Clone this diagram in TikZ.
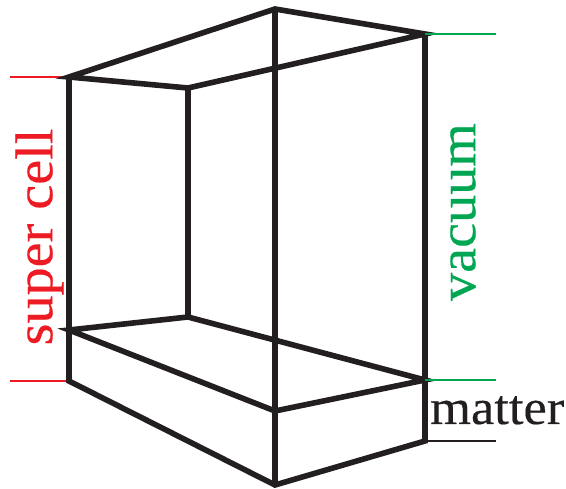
\documentclass[tikz,border=0pt]{standalone}
\usepackage{fontspec}
\newfontfamily\labfont[FakeBold=0.35,FakeStretch=1.06]{Liberation Serif}
\definecolor{boxk}{HTML}{231F20}
\definecolor{redc}{HTML}{ED1C24}
\definecolor{greenc}{HTML}{00A651}
\tikzset{
 edge/.style={draw=boxk,line width=5.6pt,line join=miter,miter limit=10},
 tick/.style={line width=2.5pt},
 lab/.style={inner sep=0pt,font=\labfont\fontsize{53}{53}\selectfont},
 labsmall/.style={inner sep=0pt,font=\labfont\fontsize{49.5}{50}\selectfont}
}
\begin{document}
\begin{tikzpicture}[x=1pt,y=-1pt]
\useasboundingbox (0,0) rectangle (566,489);
\coordinate (A) at (69,77);
\coordinate (B) at (188,88);
\coordinate (C) at (275,9);
\coordinate (D) at (425,34);
\coordinate (E) at (69,330);
\coordinate (F) at (188,317);
\coordinate (G) at (275,411);
\coordinate (H) at (425,380);
\coordinate (I) at (69,381);
\coordinate (J) at (275,485);
\coordinate (K) at (425,441);
\coordinate (rA) at (10,77);
\coordinate (rI) at (10,381);
\coordinate (gD) at (496,34);
\coordinate (gH) at (496,380);
\coordinate (kK) at (496,441);
\draw[tick,redc] (rA) -- (A);
\draw[tick,redc] (rI) -- (I);
\draw[edge] (A) -- (C) -- (D) -- (B) -- (A) -- cycle;
\draw[edge] (A) -- (I) -- (J) -- (K) -- (D);
\draw[edge] (C) -- (J);
\draw[edge] (B) -- (F);
\draw[edge] (F) -- (E) -- (G) -- (H) -- (F);
\draw[tick,greenc] (D) -- (gD);
\draw[tick,greenc] (H) -- (gH);
\draw[tick,boxk] (K) -- (kK);
\node[lab,text=redc,rotate=90] (sc) at (39.5,237) {super cell};
\node[lab,text=greenc,rotate=90] (vac) at (463,212) {vacuum};
\node[labsmall,text=boxk,anchor=base west] (mat) at (430,424) {matter};
\end{tikzpicture}
\end{document}
